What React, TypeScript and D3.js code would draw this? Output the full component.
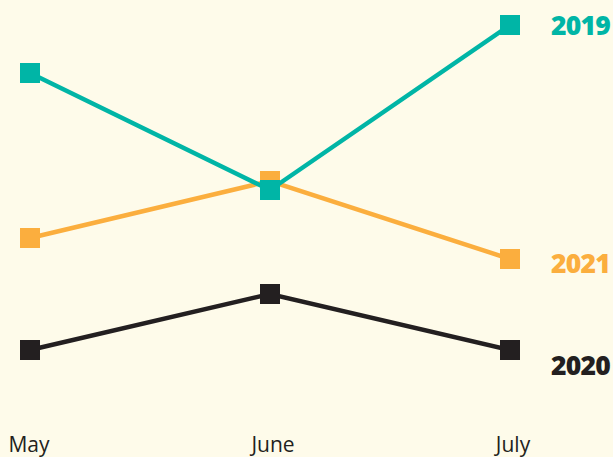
import React from "react";
import * as d3 from "d3";

const months = ["May", "June", "July"];
const seriesNames = ["2021", "2020", "2019"];
const values2019 = [81.75, 52.5, 93.75];
const values2020 = [12.5, 26.5, 12.5];
const values2021 = [40.5, 54.75, 35.25];
const colors = { "2019": "#00b5a6", "2020": "#231f20", "2021": "#fbae3e" };

const W = 613;
const H = 457;

export default function App() {
  const x = d3.scalePoint<string>().domain(months).range([30, 510]);
  const y = d3.scaleLinear().domain([0, 100]).range([400, 0]);
  const dataMap: Record<string, number[]> = {
    "2019": values2019,
    "2020": values2020,
    "2021": values2021,
  };
  const line = d3
    .line<number>()
    .x((_, i) => x(months[i]) as number)
    .y((d) => y(d));
  const labelDy: Record<string, number> = { "2019": 0, "2021": 4, "2020": 15 };
  const ms = 20;
  return (
    <svg
      width={W}
      height={H}
      style={{ position: "absolute", left: 0, top: 0, display: "block" }}
    >
      <rect width={W} height={H} fill="#fefbea" />
      {seriesNames.map((name) => {
        const vals = dataMap[name];
        const c = (colors as any)[name];
        const lastY = y(vals[vals.length - 1]);
        return (
          <g key={name}>
            <path d={line(vals) || ""} fill="none" stroke={c} strokeWidth={4.5} />
            {vals.map((v, i) => (
              <rect
                key={i}
                x={(x(months[i]) as number) - ms / 2}
                y={y(v) - ms / 2}
                width={ms}
                height={ms}
                fill={c}
              />
            ))}
            <text
              x={610}
              y={lastY + labelDy[name]}
              dy="0.36em"
              textAnchor="end"
              fill={c}
              fontFamily="'Open Sans', 'Noto Sans', sans-serif"
              fontWeight={800}
              fontSize={26.5}
              style={{ letterSpacing: "-0.8px" }}
            >
              {name}
            </text>
          </g>
        );
      })}
      {months.map((m) => (
        <text
          key={m}
          x={(x(m) as number) + (m === "May" ? -1 : 3)}
          y={452}
          textAnchor="middle"
          fill="#231f20"
          fontFamily="'Open Sans', 'Noto Sans', sans-serif"
          fontSize={21}
        >
          {m}
        </text>
      ))}
    </svg>
  );
}
